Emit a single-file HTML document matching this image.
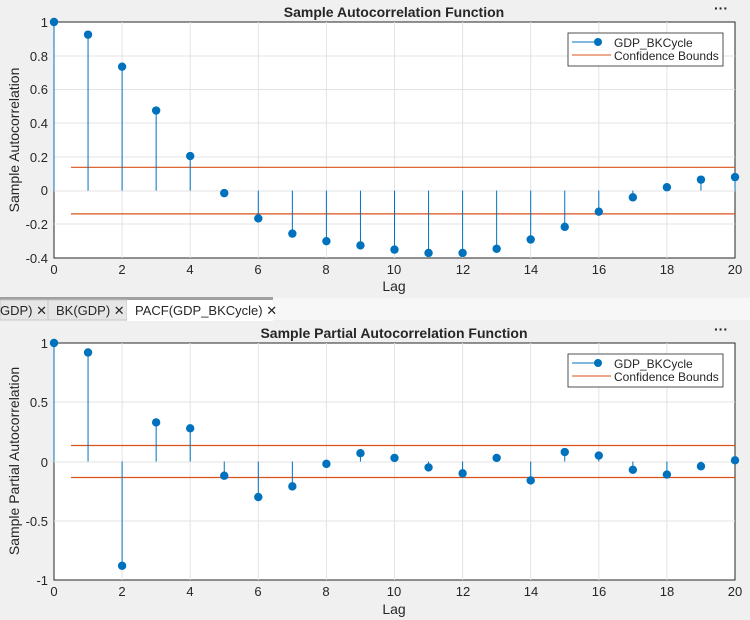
<!DOCTYPE html>
<html><head><style>
body{margin:0;width:750px;height:620px;background:#f0f0f0;overflow:hidden;font-family:"Liberation Sans",Arial,sans-serif}
svg{position:absolute;left:0;top:0}
text{font-family:"Liberation Sans",Arial,sans-serif;fill:#262626}
</style></head><body>
<svg width="750" height="620" id="s">
<!-- top panel -->
<rect x="0" y="0" width="750" height="298" fill="#f0f0f0"/>
<rect x="54" y="22" width="681" height="236" fill="#fff" stroke="#262626" stroke-width="1"/>
<g id="topgrid"></g>
<text x="394" y="17" font-size="14" font-weight="bold" text-anchor="middle">Sample Autocorrelation Function</text>
<text x="714" y="13" font-size="14" font-weight="bold" fill="#444">···</text>
<g font-size="13" text-anchor="end">
<text x="48" y="27">1</text><text x="48" y="61">0.8</text><text x="48" y="94">0.6</text><text x="48" y="128">0.4</text><text x="48" y="162">0.2</text><text x="48" y="195">0</text><text x="48" y="229">-0.2</text><text x="48" y="263">-0.4</text>
</g>
<g font-size="13" text-anchor="middle">
<text x="54" y="274">0</text><text x="122" y="274">2</text><text x="190" y="274">4</text><text x="258" y="274">6</text><text x="326" y="274">8</text><text x="394" y="274">10</text><text x="463" y="274">12</text><text x="531" y="274">14</text><text x="599" y="274">16</text><text x="667" y="274">18</text><text x="735" y="274">20</text>
</g>
<text x="394" y="291" font-size="14" text-anchor="middle">Lag</text>
<text transform="translate(19,140) rotate(-90)" font-size="14" text-anchor="middle">Sample Autocorrelation</text>
<!-- tabs -->
<rect x="0" y="298" width="750" height="22" fill="#f7f7f7"/>
<rect x="0" y="297" width="273" height="3" fill="#a0a0a0"/>
<rect x="0" y="300" width="48" height="20" fill="#e6e6e6" stroke="#c8c8c8"/>
<rect x="48" y="300" width="79" height="20" fill="#e6e6e6" stroke="#c8c8c8"/>
<rect x="127" y="300" width="146" height="21" fill="#fff"/>
<text x="0" y="315" font-size="13" fill="#444">GDP) ✕</text>
<text x="56" y="315" font-size="13" fill="#444">BK(GDP) ✕</text>
<text x="135" y="315" font-size="13" fill="#444">PACF(GDP_BKCycle) ✕</text>
<!-- bottom panel -->
<rect x="54" y="343" width="681" height="237" fill="#fff" stroke="#262626" stroke-width="1"/>
<g id="botgrid"></g>
<text x="394" y="338" font-size="14" font-weight="bold" text-anchor="middle">Sample Partial Autocorrelation Function</text>
<text x="714" y="334" font-size="14" font-weight="bold" fill="#444">···</text>
<g font-size="13" text-anchor="end">
<text x="48" y="348">1</text><text x="48" y="407">0.5</text><text x="48" y="467">0</text><text x="48" y="526">-0.5</text><text x="48" y="585">-1</text>
</g>
<g font-size="13" text-anchor="middle">
<text x="54" y="596">0</text><text x="122" y="596">2</text><text x="190" y="596">4</text><text x="258" y="596">6</text><text x="326" y="596">8</text><text x="394" y="596">10</text><text x="463" y="596">12</text><text x="531" y="596">14</text><text x="599" y="596">16</text><text x="667" y="596">18</text><text x="735" y="596">20</text>
</g>
<text x="394" y="614" font-size="14" text-anchor="middle">Lag</text>
<text transform="translate(19,461) rotate(-90)" font-size="14" text-anchor="middle">Sample Partial Autocorrelation</text>
<g id="data"></g>
<!-- legends -->
<g>
<rect x="568" y="33" width="155" height="33" fill="#fff" stroke="#262626" stroke-width="0.8"/>
<line x1="572" y1="42" x2="598" y2="42" stroke="#0072bd"/><circle cx="598" cy="42" r="4" fill="#0072bd"/>
<line x1="572" y1="55" x2="611" y2="55" stroke="#d95319"/>
<text x="614" y="47" font-size="12">GDP_BKCycle</text>
<text x="614" y="60" font-size="12">Confidence Bounds</text>
</g>
<g>
<rect x="568" y="354" width="155" height="33" fill="#fff" stroke="#262626" stroke-width="0.8"/>
<line x1="572" y1="363" x2="598" y2="363" stroke="#0072bd"/><circle cx="598" cy="363" r="4" fill="#0072bd"/>
<line x1="572" y1="376" x2="611" y2="376" stroke="#d95319"/>
<text x="614" y="368" font-size="12">GDP_BKCycle</text>
<text x="614" y="381" font-size="12">Confidence Bounds</text>
</g>
</svg>
<script>
var ns="http://www.w3.org/2000/svg",d=document.getElementById("data");
function el(p,t,a){var e=document.createElementNS(ns,t);for(var k in a)e.setAttribute(k,a[k]);p.appendChild(e);return e;}
var X=function(i){return 54+i*34.05;};
function grid(g,top,bot,yt){for(var i=2;i<20;i+=2)el(g,"line",{x1:X(i),x2:X(i),y1:top,y2:bot,stroke:"#e3e3e3"});
yt.forEach(function(y){el(g,"line",{x1:54,x2:735,y1:y,y2:y,stroke:"#e3e3e3"});});}
grid(document.getElementById("topgrid"),22,258,[56,89.5,123,157,191,224]);
grid(document.getElementById("botgrid"),343,580,[402,462,521]);
function plot(vals,y0,sc,cb){
el(d,"line",{x1:X(0.5),x2:735,y1:y0-cb*sc,y2:y0-cb*sc,stroke:"#d95319","stroke-width":1.2});
el(d,"line",{x1:X(0.5),x2:735,y1:y0+cb*sc,y2:y0+cb*sc,stroke:"#d95319","stroke-width":1.2});
vals.forEach(function(v,i){var y=y0-v*sc;el(d,"line",{x1:X(i),x2:X(i),y1:y0,y2:y,stroke:"#0072bd"});el(d,"circle",{cx:X(i),cy:y,r:4.2,fill:"#0072bd"});});}
plot([1,0.925,0.735,0.475,0.205,-0.015,-0.165,-0.255,-0.30,-0.325,-0.35,-0.37,-0.37,-0.345,-0.29,-0.215,-0.125,-0.04,0.02,0.065,0.08],190.6,168.6,0.138);
plot([1,0.92,-0.88,0.33,0.28,-0.12,-0.30,-0.21,-0.02,0.07,0.03,-0.05,-0.10,0.03,-0.16,0.08,0.05,-0.07,-0.11,-0.04,0.01],461.5,118.5,0.135);
</script>
</body></html>
